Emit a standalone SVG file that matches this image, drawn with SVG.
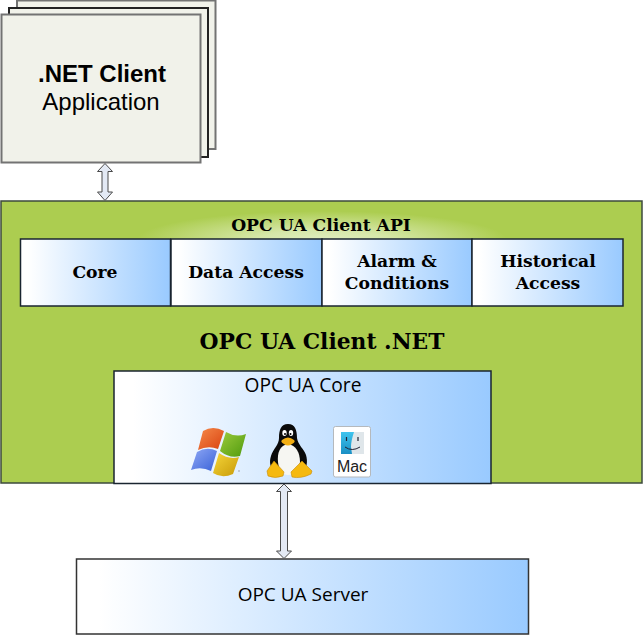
<svg xmlns="http://www.w3.org/2000/svg" width="644" height="636" viewBox="0 0 644 636">
<defs>
<linearGradient id="blue" x1="0" y1="0" x2="1" y2="0"><stop offset="0.05" stop-color="#ffffff"/><stop offset="1" stop-color="#99caff"/></linearGradient>
<radialGradient id="glow" cx="0.5" cy="0.5" r="0.5"><stop offset="0" stop-color="#e0eec0"/><stop offset="0.35" stop-color="#d6e7a8"/><stop offset="1" stop-color="#accd50"/></radialGradient>
<linearGradient id="orange" x1="0" y1="0" x2="1" y2="1"><stop offset="0" stop-color="#f58a4a"/><stop offset="1" stop-color="#d9410f"/></linearGradient>
<linearGradient id="green" x1="0" y1="0" x2="1" y2="1"><stop offset="0" stop-color="#9ccb3c"/><stop offset="1" stop-color="#4f9a0e"/></linearGradient>
<linearGradient id="bluepane" x1="0" y1="0" x2="1" y2="1"><stop offset="0" stop-color="#8fa8f5"/><stop offset="1" stop-color="#3a62d8"/></linearGradient>
<linearGradient id="yellow" x1="0" y1="0" x2="1" y2="1"><stop offset="0" stop-color="#f6d63a"/><stop offset="1" stop-color="#c79a08"/></linearGradient>
<linearGradient id="finder" x1="0" y1="0" x2="0" y2="1"><stop offset="0" stop-color="#3ec4ee"/><stop offset="1" stop-color="#1a8fc4"/></linearGradient>
</defs>
<style>
.sheet{fill:#f1f2ea;stroke:#737373;stroke-width:2}
.box{fill:url(#blue);stroke:#1a2530;stroke-width:1.5}
.lbl{font-family:"DejaVu Serif",serif;font-weight:bold;font-size:17.200px;fill:#000;text-anchor:middle}
.sans{font-family:"Open Sans","DejaVu Sans",sans-serif;fill:#000;text-anchor:middle}
.app{font-family:"Liberation Sans",Arial,sans-serif;font-size:24px;fill:#000;text-anchor:middle}
.arrow{fill:#e3e9f4;stroke:#4a4a4a;stroke-width:1}
.yel{fill:#f5b90f;stroke:#c78c08;stroke-width:.6}
</style>
<g id="client-app">
<rect class="sheet" x="17" y="0.500" width="198.500" height="148.500"/>
<rect class="sheet" x="9" y="8" width="199" height="149" style="stroke:#222"/>
<rect class="sheet" x="1.500" y="14.500" width="199" height="148"/>
<text class="app" x="102" y="82" font-weight="bold">.NET Client</text>
<text class="app" x="101" y="110">Application</text>
</g>
<g id="client-net">
<rect x="1" y="201" width="641" height="282" fill="#accd50" stroke="#3c4a3c" stroke-width="1.500"/>
<ellipse cx="322" cy="240" rx="185" ry="29" fill="url(#glow)"/>
<text class="lbl" x="321" y="231">OPC UA Client API</text>
<text class="lbl" x="322" y="349" style="font-size:21.800px">OPC UA Client .NET</text>
</g>
<g id="api-core"><rect class="box" x="20.500" y="239" width="150" height="67"/><text class="lbl" x="95" y="278">Core</text></g>
<g id="api-da"><rect class="box" x="171" y="239" width="151" height="67"/><text class="lbl" x="246" y="278">Data Access</text></g>
<g id="api-ac"><rect class="box" x="322" y="239" width="150" height="67"/><text class="lbl" x="397" y="267">Alarm &amp;</text><text class="lbl" x="397" y="289">Conditions</text></g>
<g id="api-ha"><rect class="box" x="472" y="239" width="151" height="67"/><text class="lbl" x="548" y="267">Historical</text><text class="lbl" x="548" y="289">Access</text></g>
<g id="ua-core">
<rect class="box" x="114" y="371" width="377" height="112.500"/>
<text class="sans" x="303" y="391.500" font-size="19.200">OPC UA Core</text>
<g id="windows-logo">
<path fill="url(#orange)" d="M203 431Q213 425 224 431L218 449Q208 445 198 450Z"/>
<path fill="url(#green)" d="M226 432Q236 438 246 434L240 456Q230 459 220 451Z"/>
<path fill="url(#bluepane)" d="M197 452Q207 446 217 451L211 471Q201 466 191 470Z"/>
<path fill="url(#yellow)" d="M219 453Q229 460 239 457L233 474Q222 479 213 473Z"/>
<circle cx="239" cy="471" r="0.700" fill="#888"/>
</g>
<g id="linux-logo">
<path fill="#0a0a0a" d="M288 424C281 424 279 430 279 438C279 445 273 449 271 456C269 462 270 468 275 472L302 472C307 468 308 462 306 455C304 449 298 445 297 438C297 430 295 424 288 424Z"/>
<path fill="#f6f6f2" d="M288 444C280 445 277 453 278 462C279 471 283 475 288 475C294 475 299 471 300 462C300 453 296 445 288 444Z"/>
<ellipse cx="284.500" cy="433" rx="2.200" ry="3" fill="#fff"/><ellipse cx="291" cy="433" rx="2.200" ry="3" fill="#fff"/>
<circle cx="285" cy="434" r="1" fill="#000"/><circle cx="290.500" cy="434" r="1" fill="#000"/>
<path fill="#f2ae13" d="M282 440Q288 435 294 440Q296 442 292 444Q288 447 284 444Q280 442 282 440Z"/>
<path class="yel" d="M274 461L284 472L283 476Q275 479 268 476L267 471Z"/>
<path class="yel" d="M302 461L312 471L311 474Q301 479 292 477L291 472Z"/>
</g>
<g id="mac-logo">
<rect x="333.500" y="426.500" width="37" height="50.500" rx="2" fill="#fff" stroke="#b5b9bd"/>
<rect x="341" y="432" width="23" height="22" fill="#dfe6ea"/>
<path fill="url(#finder)" d="M341 432H354Q351 441 351 447L352 454H341Z"/>
<path d="M345 447Q352 452 360 447" fill="none" stroke="#223" stroke-width="1"/>
<path d="M346.500 437V441M358 437V441" stroke="#223" stroke-width="1.200"/>
<text x="352" y="471.500" font-family="'Liberation Sans',Arial,sans-serif" font-size="16" fill="#222" text-anchor="middle">Mac</text>
</g>
</g>
<g id="server">
<rect x="76.500" y="559" width="452" height="75" fill="url(#blue)" stroke="#333" stroke-width="1.500"/>
<text class="sans" x="303" y="601" font-size="19">OPC UA Server</text>
</g>
<g id="connectors">
<path class="arrow" d="M105 163.500L112.500 171.500H108V192H112.500L105 200.500L97.500 192H102V171.500H97.500Z"/>
<path class="arrow" d="M284 484L291.500 491.500H287.500V551H291.500L284 558.500L276.500 551H280.500V491.500H276.500Z"/>
</g>
</svg>
